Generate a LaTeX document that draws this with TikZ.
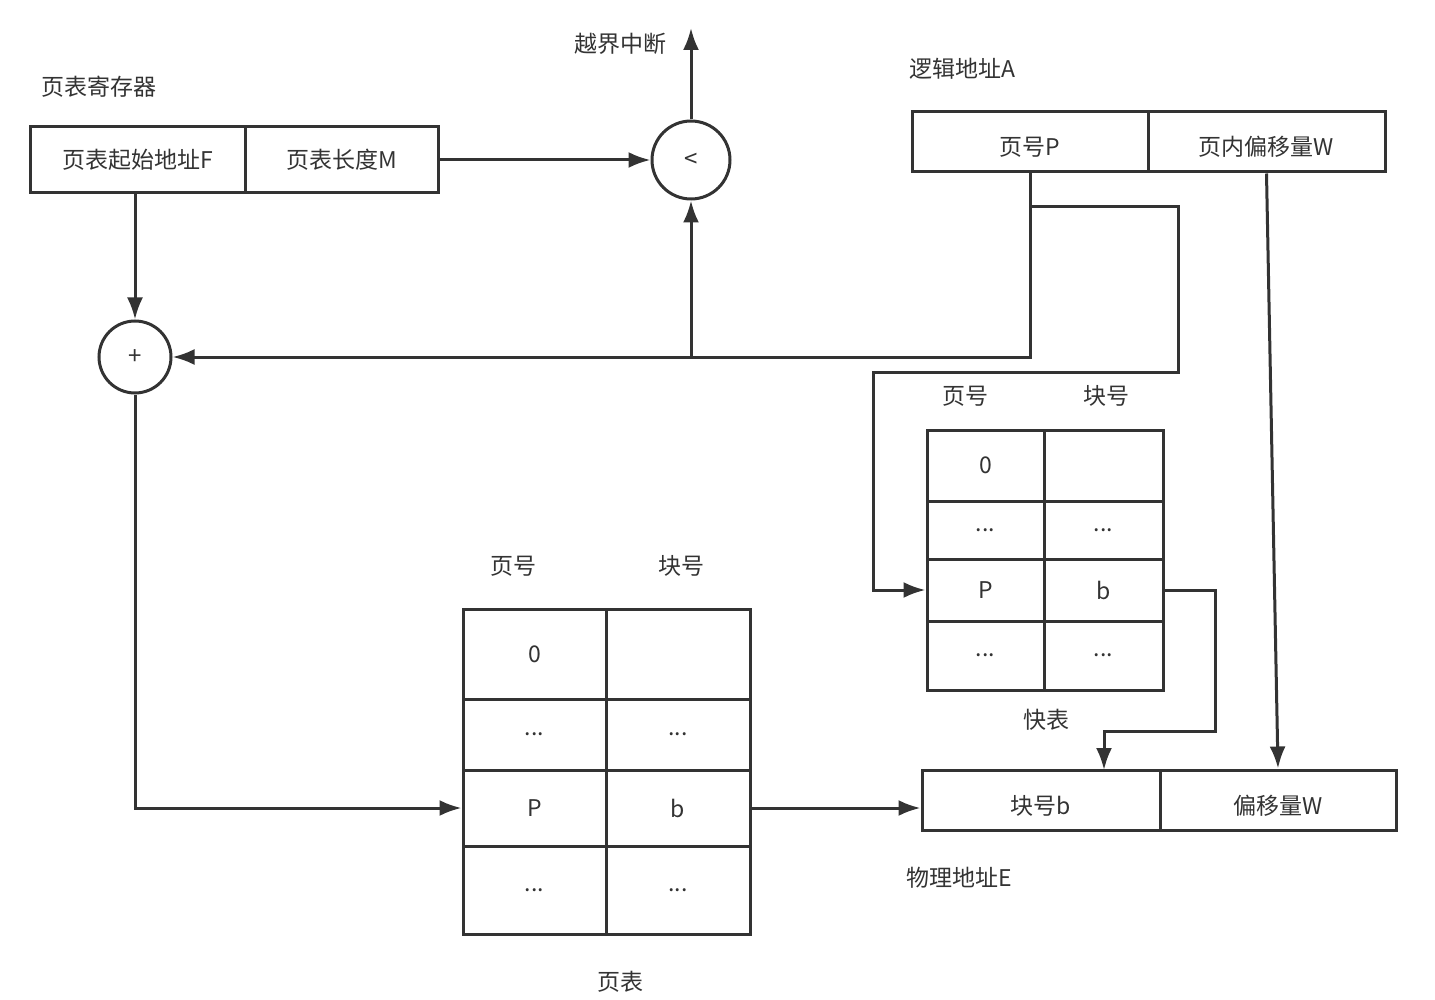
\documentclass[tikz,border=0pt]{standalone}
\usepackage{fontspec}
\setmainfont{Noto Sans CJK SC}
\usetikzlibrary{positioning,calc,arrows.meta}
\definecolor{linec}{HTML}{333333}

\begin{document}
\begin{tikzpicture}[x=0.5pt,y=-0.5pt,>={Latex[length=11pt,width=8pt]},
  color=linec,line width=1.5pt,
  every node/.style={font=\fontsize{11.5pt}{14pt}\selectfont,inner sep=0pt},
  cell/.style={draw,rectangle,line width=1.5pt},
  low/.style={text height=15pt,text depth=1pt},
  op/.style={draw,circle,line width=1.5pt,font=\fontsize{12pt}{14pt}\selectfont},
  ptL/.style={cell,minimum width=71.5pt},
  ptR/.style={cell,minimum width=72pt},
  tlbL/.style={cell,minimum width=58.5pt},
  tlbR/.style={cell,minimum width=59.5pt}]
\useasboundingbox (0,0) rectangle (1435,1000);

% page table register
\node[anchor=west] (regLab) at (40,87) {页表寄存器};
\node[cell,minimum width=107.5pt,minimum height=33pt] (regF) at (137.5,160) {页表起始地址F};
\node[cell,minimum width=96.5pt,minimum height=33pt] (regM) at (341.5,160) {页表长度M};

% comparator and adder
\node[op,minimum size=39pt] (cmp) at (691,160) {<};
\node (irqLab) at (620,44) {越界中断};
\coordinate (irq) at (691,28);
\node[op,minimum size=36pt] (add) at (135,357) {+};

% logical address
\node[anchor=west] (laLab) at (908,69) {逻辑地址A};
\node[cell,low,minimum width=118pt,minimum height=30pt] (laP) at (1030,142) {页号P};
\node[cell,low,minimum width=118.5pt,minimum height=30pt] (laW) at (1266.5,142) {页内偏移量W};

% TLB
\node (tlbHP) at (965,396) {页号};
\node (tlbHB) at (1106,396) {块号};
\node[tlbL,minimum height=35.5pt] (tlb0) at (985.5,465.5) {0};
\node[tlbR,minimum height=35.5pt] (tlb0b) at (1103.5,465.5) {};
\node[tlbL,minimum height=29pt] (tlb1) at (985.5,530) {...};
\node[tlbR,minimum height=29pt] (tlb1b) at (1103.5,530) {...};
\node[tlbL,minimum height=31pt] (tlbP) at (985.5,590) {P};
\node[tlbR,minimum height=31pt] (tlbB) at (1103.5,590) {b};
\node[tlbL,minimum height=34.5pt] (tlb3) at (985.5,655.5) {...};
\node[tlbR,minimum height=34.5pt] (tlb3b) at (1103.5,655.5) {...};
\node (tlbLab) at (1046,720) {快表};

% page table
\node (ptHP) at (513,566) {页号};
\node (ptHB) at (681,566) {块号};
\node[ptL,minimum height=45pt] (pt0) at (534.5,654) {0};
\node[ptR,minimum height=45pt] (pt0b) at (678,654) {};
\node[ptL,minimum height=35.5pt] (pt1) at (534.5,734.5) {...};
\node[ptR,minimum height=35.5pt] (pt1b) at (678,734.5) {...};
\node[ptL,minimum height=38pt] (ptP) at (534.5,808) {P};
\node[ptR,minimum height=38pt] (ptB) at (678,808) {b};
\node[ptL,minimum height=44pt] (pt3) at (534.5,890) {...};
\node[ptR,minimum height=44pt] (pt3b) at (678,890) {...};
\node (ptLab) at (620,982) {页表};

% physical address
\node[cell,low,minimum width=119pt,minimum height=30pt] (phyB) at (1041,800) {块号b};
\node[cell,low,minimum width=118pt,minimum height=30pt] (phyW) at (1278,800) {偏移量W};
\node[anchor=west] (phyLab) at (905,878) {物理地址E};

% connectors
\coordinate (tb1) at (1178,207);
\coordinate (tb2) at (873,372);
\coordinate (tk1) at (1215,731);
\coordinate (tk2) at (1104,770);
\draw[->] (regM.east) -- (cmp.west);
\draw[->] (cmp.north) -- (irq);
\draw[->] (add |- regF.south) -- (add.north);
\draw[->] (laP.south) |- (add.east);
\draw[->] (cmp.south |- add.east) -- (cmp.south);
\draw[->] (laP.south |- tb1) -- (tb1) -- (tb1 |- tb2) -- (tb2) |- (tlbP.west);
\draw[->] (add.south) |- (ptP.west);
\draw[->] (ptB.east) -- (ptB.east -| phyB.west);
\draw[->] (tlbB.east) -| (tk1) -| (tk2);
\draw[->] (laW.south) -- (phyW.north);
\end{tikzpicture}
\end{document}
